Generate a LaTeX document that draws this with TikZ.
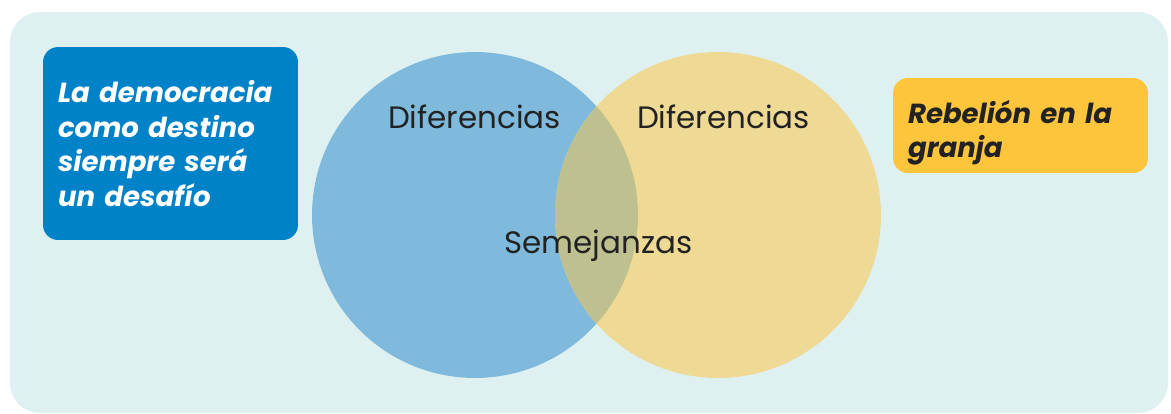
\documentclass[tikz,border=0pt]{standalone}
\usepackage{fontspec}
\setmainfont{Poppins}
\usetikzlibrary{positioning}
\definecolor{fondo}{HTML}{DFF0F0}
\definecolor{azul}{HTML}{0082C8}
\definecolor{amarillo}{HTML}{FDC53C}
\definecolor{circazul}{HTML}{7FBADC}
\definecolor{circamarillo}{HTML}{EEDA95}
\definecolor{cruce}{HTML}{BEC08F}
\definecolor{texto}{HTML}{222222}

\begin{document}
\begin{tikzpicture}[x=0.02cm, y=-0.02cm,
		caja/.style={rectangle, rounded corners=0.3cm, inner xsep=0.3cm, inner ysep=0pt, minimum width=5.1cm, text width=4.5cm, align=left, font=\fontsize{15.7}{19.8}\selectfont\bfseries\itshape},
		circulo/.style={circle, minimum size=6.52cm, inner sep=0pt},
		etiqueta/.style={anchor=base, inner sep=0pt, text=texto, font=\fontsize{17.6}{20}\selectfont},
	]
		\useasboundingbox (0,0) rectangle (1171,413);
		\fill[fondo, rounded corners=0.6cm] (10,12) rectangle (1168,413);

		\node[caja, fill=azul, text=white, minimum height=3.86cm] (obra1) at (170.5,143.5) {La democracia\\como destino\\siempre será\\un desafío};
		\node[caja, fill=amarillo, text=texto, minimum height=1.9cm] (obra2) at (1020.5,125.5) {\rule{0pt}{0.75cm}Rebelión en la\\granja};

		\node[circulo, fill=circazul] (izq) at (475,215) {};
		\node[circulo, fill=circamarillo] (der) at (718,215) {};
		\begin{scope}
			\clip (izq.center) circle (163);
			\fill[cruce] (der.center) circle (163);
		\end{scope}

		\node[etiqueta] (dif1) at (474.5,128) {Diferencias};
		\node[etiqueta] (dif2) at (723.5,128) {Diferencias};
		\node[etiqueta] (sem) at (598.5,253) {Semejanzas};
	\end{tikzpicture}
\end{document}
